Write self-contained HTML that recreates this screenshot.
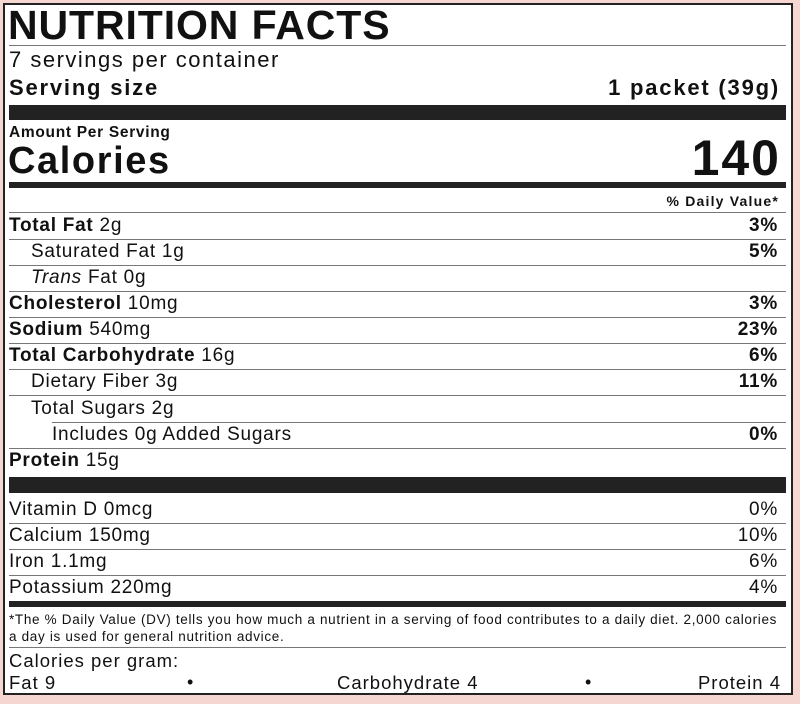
<!DOCTYPE html>
<html><head><style>
body{margin:0;width:800px;height:704px;background:#f6d6d1;position:relative;overflow:hidden;font-family:"Liberation Sans",Arial,sans-serif;color:#111}
#box{position:absolute;left:3px;top:3px;width:790px;height:692px;border:2px solid #222;background:#fff;box-sizing:border-box}
.a{position:absolute;white-space:nowrap}
.r{position:absolute;left:9px;width:769px;height:26px;line-height:26px;font-size:19px;letter-spacing:0.75px}
.r .v{position:absolute;right:0;top:0;font-weight:bold}
.ln{position:absolute;left:9px;width:777px;height:1px;background:#777}
.bar{position:absolute;left:9px;width:777px;background:#222}
b{font-weight:bold}
</style></head><body>
<div id="box"></div>
<div class="a" style="left:8px;top:4px;font-size:41px;font-weight:bold;line-height:42px;letter-spacing:0.9px">NUTRITION FACTS</div>
<div class="ln" style="top:45px"></div>
<div class="a" style="left:9px;top:47px;font-size:22px;line-height:26px;letter-spacing:1.5px">7 servings per container</div>
<div class="a" style="left:9px;top:75px;font-size:22px;line-height:26px;font-weight:bold;letter-spacing:1.8px">Serving size</div>
<div class="a" style="right:20px;top:75px;font-size:22px;line-height:26px;font-weight:bold;letter-spacing:1.8px">1 packet (39g)</div>
<div class="bar" style="top:105px;height:15px"></div>
<div class="a" style="left:9px;top:124px;font-size:15.5px;line-height:18px;font-weight:bold;letter-spacing:0.7px">Amount Per Serving</div>
<div class="a" style="left:8px;top:140px;font-size:38px;line-height:42px;font-weight:bold;letter-spacing:1.6px">Calories</div>
<div class="a" style="right:19px;top:132px;font-size:50px;line-height:52px;font-weight:bold;letter-spacing:2px">140</div>
<div class="bar" style="top:182px;height:6px"></div>
<div class="a" style="right:21px;top:193px;font-size:14px;line-height:16px;font-weight:bold;letter-spacing:1.2px">% Daily Value*</div>
<div class="ln" style="top:212px"></div>

<div class="r" style="top:213px"><b>Total Fat</b> 2g<span class="v">3%</span></div>
<div class="ln" style="top:239px"></div>
<div class="r" style="top:239px;padding-left:22px;box-sizing:border-box">Saturated Fat 1g<span class="v">5%</span></div>
<div class="ln" style="top:265px"></div>
<div class="r" style="top:265px;padding-left:22px;box-sizing:border-box"><i>Trans</i> Fat 0g</div>
<div class="ln" style="top:291px"></div>
<div class="r" style="top:291px"><b>Cholesterol</b> 10mg<span class="v">3%</span></div>
<div class="ln" style="top:317px"></div>
<div class="r" style="top:317px"><b>Sodium</b> 540mg<span class="v">23%</span></div>
<div class="ln" style="top:343px"></div>
<div class="r" style="top:343px"><b>Total Carbohydrate</b> 16g<span class="v">6%</span></div>
<div class="ln" style="top:369px"></div>
<div class="r" style="top:369px;padding-left:22px;box-sizing:border-box">Dietary Fiber 3g<span class="v">11%</span></div>
<div class="ln" style="top:395px"></div>
<div class="r" style="top:396px;padding-left:22px;box-sizing:border-box">Total Sugars 2g</div>
<div class="ln" style="top:422px;left:52px;width:734px"></div>
<div class="r" style="top:422px;padding-left:43px;box-sizing:border-box">Includes 0g Added Sugars<span class="v">0%</span></div>
<div class="ln" style="top:448px"></div>
<div class="r" style="top:448px"><b>Protein</b> 15g</div>
<div class="bar" style="top:477px;height:16px"></div>

<div class="r" style="top:497px">Vitamin D 0mcg<span class="v" style="font-weight:normal">0%</span></div>
<div class="ln" style="top:523px"></div>
<div class="r" style="top:523px">Calcium 150mg<span class="v" style="font-weight:normal">10%</span></div>
<div class="ln" style="top:549px"></div>
<div class="r" style="top:549px">Iron 1.1mg<span class="v" style="font-weight:normal">6%</span></div>
<div class="ln" style="top:575px"></div>
<div class="r" style="top:575px">Potassium 220mg<span class="v" style="font-weight:normal">4%</span></div>
<div class="bar" style="top:601px;height:6px"></div>
<div class="a" style="left:9px;top:611px;font-size:13.5px;line-height:17px;white-space:normal;width:786px;letter-spacing:0.68px">*The % Daily Value (DV) tells you how much a nutrient in a serving of food contributes to a daily diet. 2,000 calories<br>a day is used for general nutrition advice.</div>
<div class="ln" style="top:647px"></div>
<div class="a" style="left:9px;top:650px;font-size:18.5px;line-height:21px;letter-spacing:1px">Calories per gram:</div>
<div class="a" style="left:9px;top:672px;font-size:18.5px;line-height:21px;letter-spacing:1px">Fat 9</div>
<div class="a" style="left:187px;top:672px;font-size:18px;line-height:21px">•</div>
<div class="a" style="left:337px;top:672px;font-size:18.5px;line-height:21px;letter-spacing:1px">Carbohydrate 4</div>
<div class="a" style="left:585px;top:672px;font-size:18px;line-height:21px">•</div>
<div class="a" style="right:19px;top:672px;font-size:18.5px;line-height:21px;letter-spacing:1px">Protein 4</div>
</body></html>
